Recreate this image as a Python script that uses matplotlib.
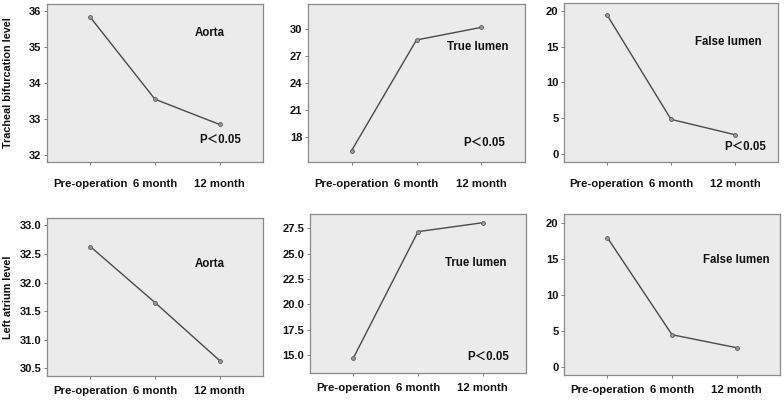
import matplotlib

matplotlib.use("Agg")
import matplotlib.pyplot as plt
from matplotlib.ticker import FormatStrFormatter

plt.rcParams["font.family"] = ["Liberation Sans", "Noto Sans CJK SC", "DejaVu Sans"]

W, H = 784, 404

timepoints = ["Pre-operation", "6 month", "12 month"]

# tracheal bifurcation level
aorta_tb = [35.82, 33.55, 32.85]
true_tb = [16.47, 28.81, 30.22]
false_tb = [19.48, 4.81, 2.65]

# left atrium level
aorta_la = [32.63, 31.65, 30.635]
true_la = [14.7, 27.17, 28.05]
false_la = [17.93, 4.51, 2.71]

row_labels = ["Tracheal bifurcation level", "Left atrium level"]
p_text = "P＜0.05"

# panel layout: (left, top, right, bottom) in px, ylim, yticks, label positions
panels = [
    dict(vals=aorta_tb, name="Aorta", rect=(47, 4, 263, 162), ylim=(31.81, 36.19),
         ticks=[32, 33, 34, 35, 36], fmt="%d", name_xy=(0.755, 0.816), p_xy=(0.80, 0.139)),
    dict(vals=true_tb, name="True lumen", rect=(308, 4, 525, 162), ylim=(15.21, 32.82),
         ticks=[18, 21, 24, 27, 30], fmt="%d", name_xy=(0.78, 0.73), p_xy=(0.81, 0.122)),
    dict(vals=false_tb, name="False lumen", rect=(564, 3, 778, 162), ylim=(-1.17, 21.12),
         ticks=[0, 5, 10, 15, 20], fmt="%d", name_xy=(0.766, 0.757), p_xy=(0.846, 0.096)),
    dict(vals=aorta_la, name="Aorta", rect=(47, 218, 263, 376), ylim=(30.365, 33.13),
         ticks=[30.5, 31.0, 31.5, 32.0, 32.5, 33.0], fmt="%.1f", name_xy=(0.752, 0.709), p_xy=None),
    dict(vals=true_la, name="True lumen", rect=(310, 214, 526, 373), ylim=(13.23, 28.91),
         ticks=[15.0, 17.5, 20.0, 22.5, 25.0, 27.5], fmt="%.1f", name_xy=(0.766, 0.694), p_xy=(0.826, 0.103)),
    dict(vals=false_la, name="False lumen", rect=(564, 214, 780, 375), ylim=(-1.06, 21.2),
         ticks=[0, 5, 10, 15, 20], fmt="%d", name_xy=(0.799, 0.712), p_xy=None),
]

fig = plt.figure(figsize=(W / 100, H / 100), dpi=100)
fig.patch.set_facecolor("white")

for i, p in enumerate(panels):
    l, t, r, b = p["rect"]
    ax = fig.add_axes([l / W, 1 - b / H, (r - l) / W, (b - t) / H])
    ax.set_facecolor("#ebebeb")
    x = range(len(timepoints))
    ax.plot(x, p["vals"], color="#4a4a4a", lw=1.0, marker="o", ms=2.8,
            mfc="#9a9a9a", mec="#5a5a5a", mew=0.6)
    ax.set_xlim(-0.67, 2.67)
    ax.set_ylim(*p["ylim"])
    ax.set_yticks(p["ticks"])
    ax.yaxis.set_major_formatter(FormatStrFormatter(p["fmt"]))
    ax.set_xticks(list(x))
    ax.set_xticklabels(timepoints)
    for s in ax.spines.values():
        s.set_color("#8a8a8a")
        s.set_linewidth(0.9)
    ax.tick_params(axis="y", length=2.5, width=0.6, color="#666666", pad=1.5, labelsize=8)
    ax.tick_params(axis="x", length=2.5, width=0.6, color="#666666",
                   pad=10 if i < 3 else 5, labelsize=8.2)
    for lab in ax.get_xticklabels() + ax.get_yticklabels():
        lab.set_fontweight("bold")
        lab.set_color("#111111")
    ax.text(*p["name_xy"], p["name"], transform=ax.transAxes, ha="center", va="center",
            fontsize=8.3, fontweight="bold", color="#111111")
    if p["p_xy"] is not None:
        ax.text(*p["p_xy"], p_text, transform=ax.transAxes, ha="center", va="center",
                fontsize=8.3, fontweight="bold", color="#111111")
    if i % 3 == 0:
        fig.text(8 / W, 1 - (t + b) / 2 / H, row_labels[i // 3], rotation=90,
                 ha="center", va="center", fontsize=7.8, fontweight="bold", color="#111111")

fig.savefig("out.png", dpi=100)
